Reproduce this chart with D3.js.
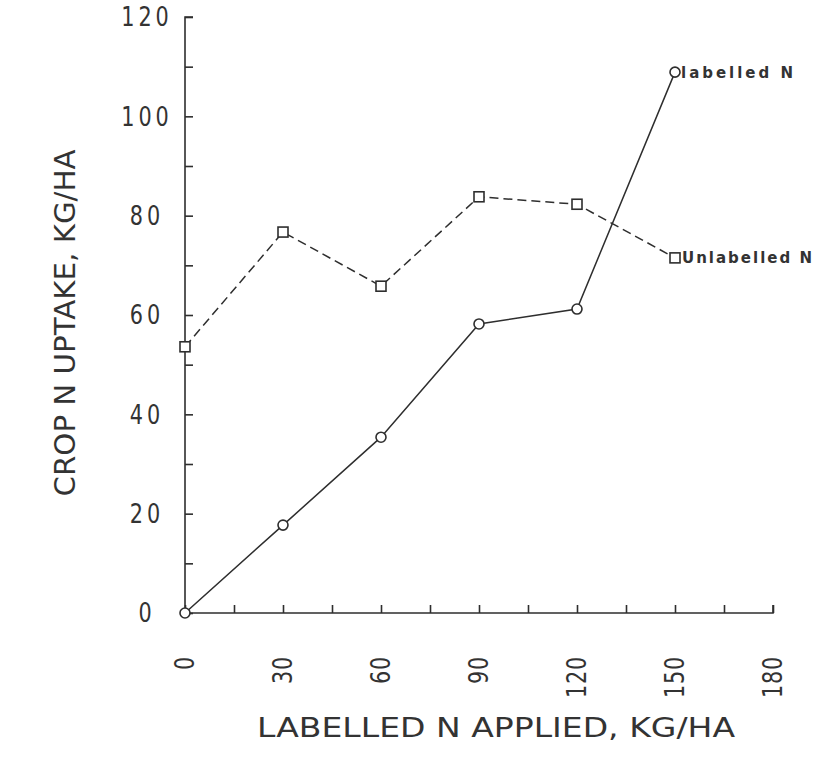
<!DOCTYPE html>
<html><head><meta charset="utf-8">
<script src="https://cdn.jsdelivr.net/npm/d3@7"></script>
<style>
html,body{margin:0;padding:0;background:#fff;}
svg{display:block;}
text{font-family:"DejaVu Sans",sans-serif;fill:#333;}
</style></head>
<body>
<script>
const nApplied = [0, 30, 60, 90, 120, 150];
const labelledN = [0, 17.7, 35.4, 58.2, 61.2, 108.9];
const unlabelledN = [53.6, 76.7, 65.8, 83.8, 82.3, 71.5];
const seriesNames = ["labelled N", "Unlabelled N"];
const xTickLabels = [0, 30, 60, 90, 120, 150, 180];
const yTickLabels = [0, 20, 40, 60, 80, 100, 120];
const xTitle = "LABELLED N APPLIED, KG/HA";
const yTitle = "CROP N UPTAKE, KG/HA";

const W = 817, H = 757;
const svg = d3.select("body").append("svg").attr("width", W).attr("height", H);
const x = d3.scaleLinear().domain([0, 180]).range([185, 773]);
const y = d3.scaleLinear().domain([0, 120]).range([613, 17]);
const ink = "#2e2e2e";

// Y axis
const yAxis = d3.axisRight(y).tickValues(d3.range(0, 121, 10)).tickSize(8).tickFormat("");
const gy = svg.append("g").attr("transform", `translate(${x(0)},0)`).call(yAxis);
gy.select(".domain").attr("stroke", ink).attr("stroke-width", 1.6).attr("d", `M8,${y(120)}H0V${y(0)}`);
gy.selectAll(".tick line").attr("stroke", ink).attr("stroke-width", 1.6);
svg.append("g").selectAll("text").data(yTickLabels).join("text")
  .attr("transform", d => `translate(147,${y(d)}) scale(0.8,1)`)
  .attr("dy", "0.36em").attr("text-anchor", "middle").attr("font-size", 26)
  .attr("letter-spacing", 5)
  .text(d => d);

// X axis
const xAxis = d3.axisTop(x).tickValues(d3.range(0, 181, 15)).tickSize(8).tickFormat("");
const gx = svg.append("g").attr("transform", `translate(0,${y(0)})`).call(xAxis);
gx.select(".domain").attr("stroke", ink).attr("stroke-width", 1.6).attr("d", `M${x(0)},0H${x(180)}V-8`);
gx.selectAll(".tick line").attr("stroke", ink).attr("stroke-width", 1.6);
svg.append("g").selectAll("text").data(xTickLabels).join("text")
  .attr("transform", d => `translate(${x(d)},656) rotate(-90) scale(0.8,1)`)
  .attr("dy", "0.36em").attr("text-anchor", "end")
  .attr("font-size", 26).attr("letter-spacing", 1)
  .text(d => d);

// Titles
svg.append("text").attr("x", 496).attr("y", 737)
  .attr("text-anchor", "middle").attr("font-size", 26)
  .attr("textLength", 478).attr("lengthAdjust", "spacingAndGlyphs").text(xTitle);
svg.append("text").attr("transform", "translate(75,323) rotate(-90)")
  .attr("text-anchor", "middle").attr("font-size", 28)
  .attr("textLength", 347).attr("lengthAdjust", "spacingAndGlyphs").text(yTitle);

// Lines
const line = d3.line().x(d => x(d[0])).y(d => y(d[1]));
const lab = nApplied.map((v, i) => [v, labelledN[i]]);
const unl = nApplied.map((v, i) => [v, unlabelledN[i]]);
svg.append("path").attr("d", line(lab)).attr("fill", "none").attr("stroke", ink).attr("stroke-width", 1.5);
svg.append("path").attr("d", line(unl)).attr("fill", "none").attr("stroke", ink).attr("stroke-width", 1.5).attr("stroke-dasharray", "9,5");

svg.append("g").selectAll("circle").data(lab).join("circle")
  .attr("cx", d => x(d[0])).attr("cy", d => y(d[1])).attr("r", 5)
  .attr("fill", "#fff").attr("stroke", ink).attr("stroke-width", 1.6);
svg.append("g").selectAll("rect").data(unl).join("rect")
  .attr("x", d => x(d[0]) - 5).attr("y", d => y(d[1]) - 5).attr("width", 10).attr("height", 10)
  .attr("fill", "#fff").attr("stroke", ink).attr("stroke-width", 1.6);

// End labels
const last = nApplied.length - 1;
svg.append("text").attr("x", x(nApplied[last]) + 6).attr("y", y(labelledN[last])).attr("dy", "0.36em")
  .attr("font-weight", "bold").attr("font-size", 15)
  .attr("textLength", 112).attr("lengthAdjust", "spacing").text(seriesNames[0]);
svg.append("text").attr("x", x(nApplied[last]) + 7).attr("y", y(unlabelledN[last])).attr("dy", "0.36em")
  .attr("font-weight", "bold").attr("font-size", 15)
  .attr("textLength", 130).attr("lengthAdjust", "spacing").text(seriesNames[1]);
</script>
</body></html>
